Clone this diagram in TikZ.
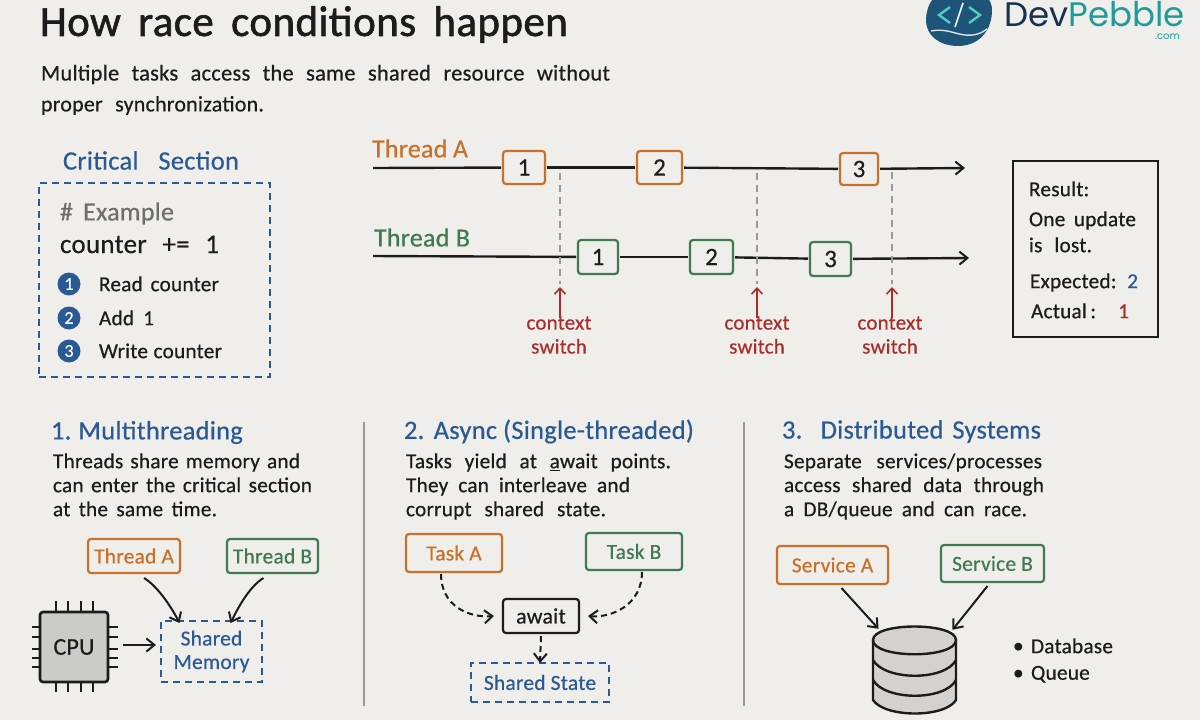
\documentclass[tikz,border=0pt]{standalone}
\usepackage{fontspec}
\setmainfont{Carlito}[LetterSpace=1,RawFeature={embolden=0.5}]
\newfontfamily\titlefont{Carlito}[LetterSpace=1,RawFeature={embolden=1.4}]
\newfontfamily\logofont{Poppins}
\usetikzlibrary{arrows.meta}
\definecolor{paper}{HTML}{F0EEEA}
\definecolor{inkc}{HTML}{1C1C1C}
\definecolor{bluec}{HTML}{2A5A96}
\definecolor{orangec}{HTML}{C9702B}
\definecolor{greenc}{HTML}{3F7A53}
\definecolor{redc}{HTML}{A82E2E}
\definecolor{grayt}{HTML}{6E6E6E}
\definecolor{sepc}{HTML}{9A9A98}
\definecolor{chipc}{HTML}{CBCBC8}
\definecolor{dbc}{HTML}{D3D2CF}
\definecolor{logob}{HTML}{1D5478}
\definecolor{logon}{HTML}{17324F}
\definecolor{logot}{HTML}{1F9C9A}
\definecolor{logoc}{HTML}{4FD0C0}
\newcommand{\jl}[2]{\hbox to #1pt{\vphantom{Ty}\spaceskip=.2em plus 1fil minus .05em\relax #2}}
\newcommand{\fz}[1]{\fontsize{#1}{#1}\selectfont}
\tikzset{
  x=1pt,y=-1pt,
  lbl/.style={inner sep=0pt,outer sep=0pt,anchor=west,yshift=-1.5pt,text=inkc,font=\fz{21.3}},
  head/.style={lbl,text=bluec,font=\fz{26.5}},
  boxa/.style={draw=orangec,line width=2.2pt,rounded corners=3pt,inner sep=0pt,outer sep=2pt,text=orangec,font=\fz{21.5}},
  boxb/.style={boxa,draw=greenc,text=greenc},
  tickn/.style={text=inkc,font=\fz{25}},
  dashbox/.style={draw=bluec,line width=1.9pt,dash pattern=on 7pt off 5pt,inner sep=0pt,outer sep=3pt,text=bluec,font=\fz{21.5}},
  ctx/.style={inner sep=0pt,outer sep=0pt,text=redc,font=\fz{21},align=center},
  numdot/.style={circle,fill=bluec,minimum size=23pt,inner sep=0pt,text=white,font=\fz{18}},
  arr/.style={draw=inkc,line width=2pt,-{Straight Barb[length=8pt,width=13pt,line width=2pt]}},
  thrline/.style={draw=inkc,line width=2.4pt},
  guide/.style={draw=sepc,line width=1.5pt,dash pattern=on 7pt off 5pt},
  sep/.style={draw=sepc,line width=1.5pt},
}
\begin{document}
\begin{tikzpicture}
\useasboundingbox (0,0) rectangle (1200,720);
\fill[paper] (0,0) rectangle (1200,720);

% title
\node[lbl,font=\titlefont\fz{43},text=inkc] (title) at (40,23) {\jl{528}{How race conditions happen}};
\node[lbl,font=\fz{22.5}] (sub1) at (41,73) {\jl{569}{Multiple tasks access the same shared resource without}};
\node[lbl,font=\fz{22}] (sub2) at (41,104) {\jl{223}{proper synchronization.}};

% logo
\fill[logob] (926,20) .. controls (926,5) and (935,-12) .. (958,-12) .. controls (982,-12) and (993,-2) .. (992,12)
  .. controls (991,32) and (978,46) .. (958,46) .. controls (940,46) and (926,36) .. (926,20) -- cycle;
\draw[white!85!logob,line width=1.4pt] (931,31) .. controls (945,28) and (955,34) .. (965,35) .. controls (975,36) and (982,33) .. (987,29);
\draw[logoc,line width=2.4pt] (950,7) -- (939,15) -- (950,23);
\draw[white!85!logoc,line width=1.6pt] (963,3) -- (955,27);
\draw[logoc,line width=2.4pt] (969,7) -- (980,15) -- (969,23);
\node[inner sep=0pt,anchor=base west,font=\logofont\fz{34}] (logotxt) at (1004,26) {\textcolor{logon}{Dev}\textcolor{logot}{Pebble}};
\node[inner sep=0pt,anchor=base east,font=\logofont\fz{10},text=logot] (logocom) at (1180,39) {.com};

% critical section
\node[head,anchor=center] (cs) at (151,161) {\jl{176}{Critical Section}};
\node[dashbox,minimum width=231pt,minimum height=194pt] (csbox) at (154.5,280) {};
\node[lbl,text=grayt,font=\fz{26}] (ex) at (60,212) {\jl{114}{\# Example}};
\node[lbl,font=\fz{27}] (cnt) at (60,245) {\jl{159}{counter += 1}};
\node[numdot] (n1) at (69,284) {1};
\node[numdot] (n2) at (69,318) {2};
\node[numdot] (n3) at (69,351) {3};
\node[lbl] (s1) at (99,284) {\jl{120}{Read counter}};
\node[lbl] (s2) at (99,318) {\jl{55}{Add 1}};
\node[lbl] (s3) at (99,351) {\jl{123}{Write counter}};

% timelines
\node[lbl,text=orangec,font=\fz{26}] (ta) at (372,149) {\jl{96}{Thread A}};
\node[lbl,text=greenc,font=\fz{26}] (tb) at (374,238) {\jl{96}{Thread B}};
\coordinate (tas) at (373,168);
\coordinate (tae) at (965,168);
\coordinate (tbs) at (373,256);
\coordinate (tbe) at (969,258);
\node[boxa,tickn,minimum width=42pt,minimum height=33pt] (a1) at (524,167.5) {1};
\node[boxa,tickn,minimum width=45pt,minimum height=33pt] (a2) at (659.5,167.5) {2};
\node[boxa,tickn,minimum width=38pt,minimum height=32pt] (a3) at (859,169) {3};
\node[boxb,tickn,minimum width=40pt,minimum height=34pt] (b1) at (598,257) {1};
\node[boxb,tickn,minimum width=43pt,minimum height=34pt] (b2) at (711.5,257) {2};
\node[boxb,tickn,minimum width=41pt,minimum height=34pt] (b3) at (830.5,259) {3};
\draw[thrline] (tas) -- (a1);
\draw[thrline] (a1) -- (a2);
\draw[thrline] (a2) -- (a3);
\draw[arr,line width=2.4pt] (a3) -- (tae);
\draw[thrline] (tbs) -- (b1);
\draw[thrline] (b1) -- (b2);
\draw[thrline] (b2) -- (b3);
\draw[arr,line width=2.4pt] (b3) -- (tbe);

% context switches
\node[ctx] (c1) at (559,335) {context\\[3pt]switch};
\node[ctx] (c2) at (757,335) {context\\[3pt]switch};
\node[ctx] (c3) at (890,335) {context\\[3pt]switch};
\coordinate (g1a) at (560,173); \coordinate (g1b) at (560,284);
\coordinate (g2a) at (757,173); \coordinate (g2b) at (757,284);
\coordinate (g3a) at (892,172); \coordinate (g3b) at (892,284);
\draw[guide] (g1a) -- (g1b);
\draw[guide] (g2a) -- (g2b);
\draw[guide] (g3a) -- (g3b);
\tikzset{redarr/.style={draw=redc,line width=1.6pt,-{Straight Barb[length=6pt,width=11pt,line width=1.6pt]}}}
\draw[redarr] ([xshift=1pt,yshift=-2pt]c1.north) -- (g1b |- 0,287);
\draw[redarr] ([yshift=-2pt]c2.north) -- (g2b |- 0,287);
\draw[redarr] ([xshift=2pt,yshift=-2pt]c3.north) -- (g3b |- 0,287);

% result
\node[draw=inkc,line width=2.2pt,minimum width=145pt,minimum height=176pt,inner sep=0pt] (res) at (1085.5,249) {};
\node[lbl] (r1) at (1029,189) {\jl{66}{Result:}};
\node[lbl] (r2) at (1029,219) {\jl{107}{One update}};
\node[lbl] (r3) at (1029,245) {\jl{63}{is lost.}};
\node[lbl] (r4) at (1030,281) {\jl{108}{Expected:\hfil\textcolor{bluec}{2}}};
\node[lbl] (r5) at (1031,311) {\jl{98}{Actual\,:\hfil\textcolor{redc}{1}}};

% separators
\coordinate (s1a) at (364,422); \coordinate (s1b) at (364,706);
\coordinate (s2a) at (744,422); \coordinate (s2b) at (744,706);
\draw[sep] (s1a) -- (s1b);
\draw[sep] (s2a) -- (s2b);

% column 1
\node[head] (h1) at (51,431) {\jl{187}{1. Multithreading}};
\node[lbl] (l11) at (53,461) {\jl{247}{Threads share memory and}};
\node[lbl] (l12) at (53,485) {\jl{259}{can enter the critical section}};
\node[lbl] (l13) at (53,509) {\jl{164}{at the same time.}};
\node[boxa,minimum width=92pt,minimum height=34pt] (tha) at (134,556) {Thread A};
\node[boxb,minimum width=91pt,minimum height=34pt] (thb) at (272.5,556) {Thread B};
\foreach \px in {56,68,81,93}{
  \draw[inkc,line width=2pt] (\px,601) -- (\px,692);
}
\foreach \py in {627,637,649,658,667}{
  \draw[inkc,line width=2pt] (32,\py) -- (118,\py);
}
\node[draw=inkc,fill=chipc,line width=2.6pt,rounded corners=3pt,minimum width=68pt,minimum height=70pt,inner sep=0pt,outer sep=1pt,font=\fz{24},text=inkc] (cpu) at (74,647) {CPU};
\node[dashbox,minimum width=101pt,minimum height=61pt,align=center] (shm) at (211.5,651.5) {Shared\\[2pt]Memory};
\draw[arr] ([xshift=14pt]cpu.east |- 0,645) -- ([xshift=-2pt]shm.west |- 0,645);
\draw[arr] ([xshift=10pt,yshift=-3pt]tha.south) .. controls +(15,9) and +(-6,-12) .. ([xshift=-32pt,yshift=-5pt]shm.north);
\draw[arr] ([xshift=-9pt,yshift=-3pt]thb.south) .. controls +(-15,9) and +(6,-12) .. ([xshift=19pt,yshift=-5pt]shm.north);

% column 2
\node[head] (h2) at (404,430) {\jl{290}{2. Async (Single-threaded)}};
\node[lbl] (l21) at (406,461) {\jl{265}{Tasks yield at \underline{a}wait points.}};
\node[lbl] (l22) at (406,485) {\jl{224}{They can interleave and}};
\node[lbl] (l23) at (406,509) {\jl{200}{corrupt shared state.}};
\node[boxa,minimum width=96pt,minimum height=38pt] (tka) at (454,553) {Task A};
\node[boxb,minimum width=96pt,minimum height=37pt] (tkb) at (634,551.5) {Task B};
\node[draw=inkc,line width=2.2pt,rounded corners=3pt,minimum width=76pt,minimum height=34pt,inner sep=0pt,outer sep=2pt,font=\fz{22},text=inkc] (aw) at (541,616) {await};
\node[dashbox,minimum width=138pt,minimum height=39pt] (shs) at (540,682.5) {Shared State};
\tikzset{darr/.style={arr,dash pattern=on 6pt off 4pt}}
\draw[darr] ([xshift=-13pt]tka.south) .. controls +(0,32) and +(-25,2) .. ([xshift=-7pt]aw.west);
\draw[darr] ([xshift=8pt]tkb.south) .. controls +(0,32) and +(25,2) .. ([xshift=7pt]aw.east);
\draw[darr] ([yshift=-1pt]aw.south) -- ([yshift=-3pt]shs.north);

% column 3
\node[head] (h3) at (782,430) {\jl{259}{3. Distributed Systems}};
\node[lbl] (l31) at (784,461) {\jl{258}{Separate services/processes}};
\node[lbl] (l32) at (784,485) {\jl{260}{access shared data through}};
\node[lbl] (l33) at (784,509) {\jl{243}{a DB/queue and can race.}};
\node[boxa,minimum width=111pt,minimum height=38pt] (sva) at (832.5,565) {Service A};
\node[boxb,minimum width=103pt,minimum height=37pt] (svb) at (992.5,563.5) {Service B};
\fill[dbc] (873,640) -- (873,700) .. controls (885,718) and (945,718) .. (956,700) -- (956,640) -- cycle;
\draw[inkc,line width=2.4pt,fill=dbc] (873,640) .. controls (873,622) and (956,622) .. (956,640) .. controls (956,659) and (873,659) .. (873,640) -- cycle;
\draw[inkc,line width=2.4pt] (873,640) -- (873,700) .. controls (885,718) and (945,718) .. (956,700) -- (956,640);
\draw[inkc,line width=2.4pt] (873,660) .. controls (885,681) and (945,681) .. (956,660);
\draw[inkc,line width=2.4pt] (873,680) .. controls (885,701) and (945,701) .. (956,680);
\node[minimum width=84pt,minimum height=87pt,inner sep=0pt] (db) at (914.5,669.5) {};
\draw[arr] ([xshift=9pt,yshift=-2pt]sva.south) -- ([xshift=-36pt,yshift=-3pt]db.north);
\draw[arr] ([xshift=-5pt,yshift=-2pt]svb.south) -- ([xshift=38pt,yshift=-4pt]db.north);
\node[lbl] (b1dot) at (1013,646) {\jl{7}{•}};
\node[lbl] (d1) at (1031,646) {\jl{79}{Database}};
\node[lbl] (b2dot) at (1013,673) {\jl{7}{•}};
\node[lbl] (d2) at (1031,673) {\jl{55}{Queue}};
\end{tikzpicture}
\end{document}
